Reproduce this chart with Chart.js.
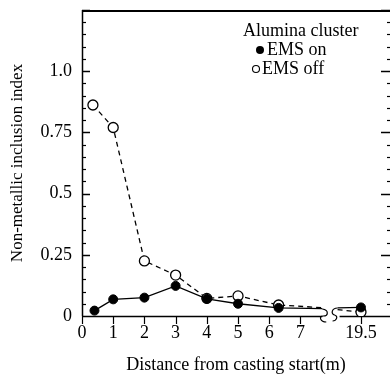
<!DOCTYPE html>
<html><head><meta charset="utf-8">
<script src="https://cdn.jsdelivr.net/npm/chart.js@4/dist/chart.umd.min.js"></script>
<style>html,body{margin:0;padding:0;background:#fff;}canvas{display:block;}</style>
</head><body>
<canvas id="c" width="390" height="378"></canvas>
<script>
// ---- data (distance from casting start, m) ----
const distOn  = [0.4, 1, 2, 3, 4, 5, 6.3, 7.7, 18.75, 19.5];
const emsOn   = [0.022, 0.068, 0.075, 0.123, 0.070, 0.050, 0.033, 0.030, 0.033, 0.035];
const distOff = [0.35, 1, 2, 3, 4, 5, 6.3, 7.7, 18.75, 19.5];
const emsOff  = [0.862, 0.770, 0.225, 0.167, 0.072, 0.082, 0.045, 0.034, 0.026, 0.016];
const xTickValues = [0, 1, 2, 3, 4, 5, 6, 7, 19.5];
const xTickLabels = ['0', '1', '2', '3', '4', '5', '6', '7', '19.5'];
const yTickValues = [0, 0.25, 0.5, 0.75, 1.0];
const yTickLabels = ['0', '0.25', '0.5', '0.75', '1.0'];
const breakStart = 7.7, breakEnd = 18.75;
const legendTitle = 'Alumina cluster';
const seriesNames = ['EMS on', 'EMS off'];

// broken x axis: values beyond the break are shifted left
const SHIFT = 10.56;
const toAxis = d => d <= 8 ? d : d - SHIFT;

function build(dist, vals) {
  const out = [];
  dist.forEach((d, i) => {
    out.push({x: toAxis(d), y: vals[i], d: d});
    if (d === breakStart) out.push({x: toAxis(breakStart) + 0.2, y: null, d: null});
  });
  return out;
}
const isStub = c => c.raw && (c.raw.d === breakStart || c.raw.d === breakEnd);

const SERIF = '"Liberation Serif", "Times New Roman", serif';

const framePlugin = {
  id: 'frame',
  afterLayout(chart) {
    // let the plot run to the right edge of the canvas (frame is cut there)
    const xs = chart.scales.x, a = chart.chartArea;
    xs.right = chart.width; xs.width = xs.right - xs.left; xs.configure();
    a.right = chart.width; a.width = a.right - a.left;
  },
  beforeDatasetsDraw(chart) {
    const ctx = chart.ctx, a = chart.chartArea;
    const xs = chart.scales.x, ys = chart.scales.y;
    const y0 = ys.getPixelForValue(0);
    ctx.save();
    ctx.strokeStyle = '#000';
    // top border
    ctx.lineWidth = 2;
    ctx.beginPath(); ctx.moveTo(a.left, a.top + 1); ctx.lineTo(a.right, a.top + 1); ctx.stroke();
    // left axis
    ctx.lineWidth = 1.5;
    ctx.beginPath(); ctx.moveTo(a.left + 0.5, a.top); ctx.lineTo(a.left + 0.5, y0); ctx.stroke();
    // x axis with break
    const bx1 = xs.getPixelForValue(toAxis(breakStart));
    const bx2 = xs.getPixelForValue(toAxis(breakEnd));
    ctx.beginPath(); ctx.moveTo(a.left, y0 + 0.5); ctx.lineTo(bx1, y0 + 0.5); ctx.stroke();
    ctx.beginPath(); ctx.moveTo(bx2 + 2, y0 + 0.5); ctx.lineTo(a.right, y0 + 0.5); ctx.stroke();
    // break squiggles
    ctx.lineWidth = 1.2;
    ctx.beginPath();
    ctx.moveTo(bx1, y0 - 7);
    ctx.bezierCurveTo(bx1 + 7, y0 - 6, bx1 + 6, y0, bx1 + 1, y0);
    ctx.bezierCurveTo(bx1 - 4, y0, bx1 - 2, y0 + 6, bx1 + 4, y0 + 6);
    ctx.stroke();
    ctx.beginPath();
    ctx.moveTo(bx2 - 5, y0 + 5);
    ctx.bezierCurveTo(bx2 - 1, y0 + 5, bx2 + 1, y0, bx2 - 3, y0 - 1);
    ctx.bezierCurveTo(bx2 - 7, y0 - 2, bx2 - 6, y0 - 8, bx2, y0 - 8);
    ctx.stroke();
    // x ticks (outward)
    ctx.lineWidth = 1.2;
    xTickValues.forEach(v => {
      const px = Math.round(xs.getPixelForValue(toAxis(v))) + 0.5;
      ctx.beginPath(); ctx.moveTo(px, y0); ctx.lineTo(px, y0 + 8); ctx.stroke();
    });
    // y ticks (inward) left and right, minor every 0.05
    for (let k = 1; k <= 25; k++) {
      const v = k * 0.05;
      const py = Math.round(ys.getPixelForValue(v)) + 0.5;
      const major = k % 5 === 0;
      ctx.lineWidth = major ? 1.5 : 1.2;
      ctx.beginPath(); ctx.moveTo(a.left, py); ctx.lineTo(a.left + (major ? 8 : 4), py); ctx.stroke();
      ctx.beginPath(); ctx.moveTo(a.right, py); ctx.lineTo(a.right - (major ? 9 : 3), py); ctx.stroke();
    }
    ctx.restore();
  },
  afterDraw(chart) {
    const ctx = chart.ctx;
    ctx.save();
    ctx.fillStyle = '#000';
    ctx.strokeStyle = '#000';
    ctx.font = '18px ' + SERIF;
    ctx.textBaseline = 'middle';
    ctx.textAlign = 'left';
    ctx.fillText(legendTitle, 243, 31);
    ctx.beginPath(); ctx.arc(260, 50, 4, 0, Math.PI * 2); ctx.fill();
    ctx.fillText(seriesNames[0], 267, 50);
    ctx.lineWidth = 1.1;
    ctx.beginPath(); ctx.arc(256, 69, 3.5, 0, Math.PI * 2); ctx.stroke();
    ctx.fillText(seriesNames[1], 262, 69);
    ctx.restore();
  }
};

new Chart(document.getElementById('c'), {
  type: 'line',
  data: {
    datasets: [
      {
        label: seriesNames[0],
        data: build(distOn, emsOn),
        borderColor: '#000', borderWidth: 1.3,
        pointBackgroundColor: '#000', pointBorderColor: '#000',
        pointRadius: c => isStub(c) ? 0 : 4.5,
        pointBorderWidth: 1,
        spanGaps: false, tension: 0
      },
      {
        label: seriesNames[1],
        data: build(distOff, emsOff),
        borderColor: '#000', borderWidth: 1.3, borderDash: [5, 4],
        pointBackgroundColor: '#fff', pointBorderColor: '#000',
        pointRadius: c => isStub(c) ? 0 : 5,
        pointBorderWidth: 1.3,
        spanGaps: false, tension: 0
      }
    ]
  },
  options: {
    responsive: false, animation: false,
    layout: {padding: {top: 10, right: 0, left: 0, bottom: 0}},
    plugins: {legend: {display: false}, tooltip: {enabled: false}},
    scales: {
      x: {
        type: 'linear', min: 0, max: 9.87,
        grid: {display: false, drawTicks: false}, border: {display: false},
        afterBuildTicks: s => { s.ticks = xTickValues.map(v => ({value: toAxis(v)})); },
        afterFit: s => { s.height = 62; s.paddingLeft = 0; s.paddingRight = 0; },
        ticks: {
          autoSkip: false, maxRotation: 0, padding: 6, color: '#000',
          font: {family: SERIF, size: 18},
          callback: (val, i) => xTickLabels[i]
        },
        title: {display: true, text: 'Distance from casting start(m)', color: '#000',
          font: {family: SERIF, size: 18}, padding: {top: 0, bottom: 2}}
      },
      y: {
        type: 'linear', min: 0, max: 1.25,
        grid: {display: false, drawTicks: false}, border: {display: false},
        afterBuildTicks: s => { s.ticks = yTickValues.map(v => ({value: v})); },
        afterFit: s => { s.width = 82; s.paddingTop = 0; s.paddingBottom = 0; },
        ticks: {
          padding: 10, color: '#000',
          font: {family: SERIF, size: 18},
          callback: (val, i) => yTickLabels[i]
        },
        title: {display: true, text: 'Non-metallic inclusion index', color: '#000',
          font: {family: SERIF, size: 17}, padding: {top: 7, bottom: 0}}
      }
    }
  },
  plugins: [framePlugin]
});
</script>
</body></html>
